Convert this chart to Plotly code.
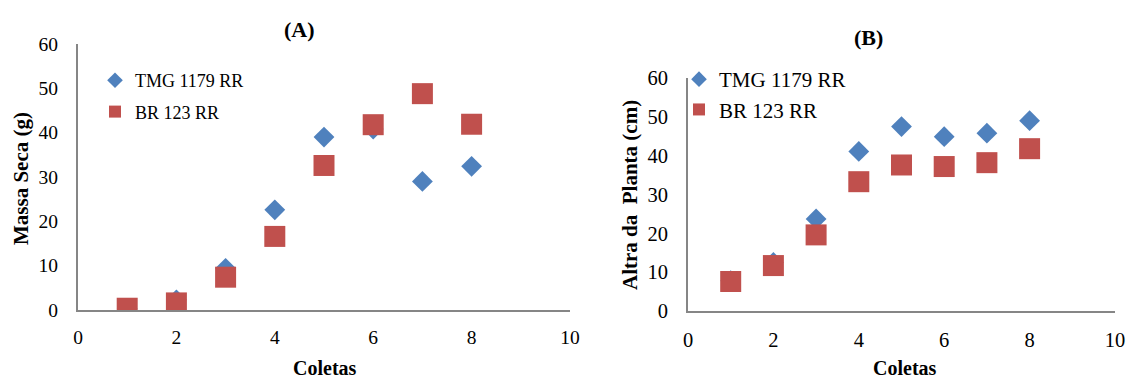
import plotly.graph_objects as go

W, H = 1127, 378

coletas = [1, 2, 3, 4, 5, 6, 7, 8]
massa_tmg = [0.3, 2.3, 9.4, 22.6, 39.0, 40.8, 29.0, 32.4]
massa_br = [0.4, 1.6, 7.4, 16.6, 32.6, 41.8, 48.8, 41.9]
altura_tmg = [7.8, 12.5, 23.7, 41.1, 47.5, 44.9, 45.8, 49.0]
altura_br = [7.6, 11.7, 19.6, 33.3, 37.6, 37.2, 38.2, 41.8]
series_names = ["TMG 1179 RR", "BR 123 RR"]
x_ticks = [0, 2, 4, 6, 8, 10]
y_ticks = [0, 10, 20, 30, 40, 50, 60]

BLUE = "#4F81BD"
RED = "#C0504D"
AXIS = "#868686"
FONT = "Liberation Serif"

def px_x(p):
    return p / W

def px_y(p):
    return (H - p) / H

fig = go.Figure()

# Panel A
fig.add_trace(go.Scatter(x=coletas, y=massa_tmg, mode="markers", name=series_names[0],
                         marker=dict(symbol="diamond", size=16, color=BLUE),
                         xaxis="x", yaxis="y", legend="legend", legendgroup="a1"))
fig.add_trace(go.Scatter(x=coletas, y=massa_br, mode="markers", name=series_names[1],
                         marker=dict(symbol="square", size=21, color=RED),
                         xaxis="x", yaxis="y", legend="legend", legendgroup="a2"))
# Panel B
fig.add_trace(go.Scatter(x=coletas, y=altura_tmg, mode="markers", name=series_names[0],
                         marker=dict(symbol="diamond", size=16, color=BLUE),
                         xaxis="x2", yaxis="y2", legend="legend2", legendgroup="b1"))
fig.add_trace(go.Scatter(x=coletas, y=altura_br, mode="markers", name=series_names[1],
                         marker=dict(symbol="square", size=21, color=RED),
                         xaxis="x2", yaxis="y2", legend="legend2", legendgroup="b2"))

def xaxis(domain, anchor, fs):
    return dict(domain=domain, anchor=anchor, range=[0, 10], tickvals=x_ticks, automargin=False,
                showgrid=False, zeroline=False, showline=True, linecolor=AXIS, linewidth=2,
                ticks="", ticklabelstandoff=9, tickfont=dict(family=FONT, size=fs, color="black"))

def yaxis(domain, anchor, fs):
    return dict(domain=domain, anchor=anchor, range=[0, 60], tickvals=y_ticks, automargin=False,
                showgrid=False, zeroline=False, showline=True, linecolor=AXIS, linewidth=2,
                ticks="", ticklabelstandoff=14, tickfont=dict(family=FONT, size=fs, color="black"))

fig.update_layout(
    width=W, height=H,
    margin=dict(l=0, r=0, t=0, b=0, autoexpand=False),
    paper_bgcolor="white", plot_bgcolor="white",
    xaxis=xaxis([px_x(78), px_x(570)], "y", 19.5),
    yaxis=yaxis([px_y(310), px_y(44)], "x", 19.5),
    xaxis2=xaxis([px_x(688), px_x(1115)], "y2", 20.5),
    yaxis2=yaxis([px_y(311), px_y(78)], "x2", 20.5),
    legend=dict(x=px_x(95), y=px_y(62), xanchor="left", yanchor="top",
                font=dict(family=FONT, size=18, color="black"), bgcolor="rgba(0,0,0,0)",
                traceorder="grouped", tracegroupgap=5, itemsizing="constant"),
    legend2=dict(x=px_x(679), y=px_y(59), xanchor="left", yanchor="top",
                 font=dict(family=FONT, size=21, color="black"), bgcolor="rgba(0,0,0,0)",
                 traceorder="grouped", tracegroupgap=0, itemsizing="constant"),
)

ann = [
    dict(text="<b>(A)</b>", x=px_x(299), y=px_y(29), size=22),
    dict(text="<b>(B)</b>", x=px_x(869), y=px_y(37), size=22),
    dict(text="<b>Coletas</b>", x=px_x(325), y=px_y(368), size=20),
    dict(text="<b>Coletas</b>", x=px_x(905), y=px_y(368), size=20),
    dict(text="<b>Massa Seca (g)</b>", x=px_x(21), y=px_y(179), size=21, angle=-90),
    dict(text="<b>Altra da  Planta (cm)</b>", x=px_x(630), y=px_y(195), size=21, angle=-90),
]
for a in ann:
    fig.add_annotation(text=a["text"], x=a["x"], y=a["y"], xref="paper", yref="paper",
                       xanchor="center", yanchor="middle", showarrow=False,
                       textangle=a.get("angle", 0),
                       font=dict(family=FONT, size=a["size"], color="black"))

# remove the browser's default 8px body margin so the figure fills the window exactly
fig.write_html("out.html",
               config={"displayModeBar": False},
               post_script="document.body.style.margin='0';document.body.style.overflow='hidden';")
